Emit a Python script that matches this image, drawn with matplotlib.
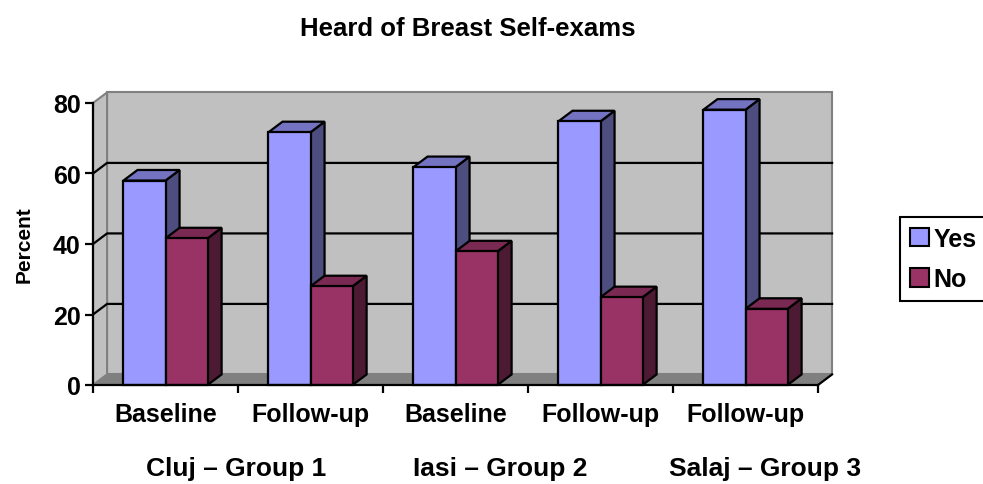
import numpy as np
import matplotlib.pyplot as plt
from matplotlib.patches import Polygon, Rectangle, Patch

plt.rcParams['font.family'] = ['Liberation Sans', 'DejaVu Sans']
plt.rcParams['font.weight'] = 'bold'

# ============================
# Data
# ============================
title = 'Heard of Breast Self-exams'
categories = ['Baseline', 'Follow-up', 'Baseline', 'Follow-up', 'Follow-up']
groups = ['Cluj – Group 1', 'Iasi – Group 2', 'Salaj – Group 3']
series_names = ['Yes', 'No']
yes = [58.0, 71.7, 61.8, 74.8, 78.1]
no = [41.6, 28.0, 37.9, 24.9, 21.6]
yticks = [0, 20, 40, 60, 80]

# ============================
# Style (3D look, Excel-like)
# ============================
front = {'Yes': '#9999FF', 'No': '#993366'}
top = {'Yes': '#7373C2', 'No': '#7A2952'}
side = {'Yes': '#4D4D80', 'No': '#4D1A33'}
wall_c = '#C0C0C0'
floor_c = '#808080'
DX = 0.097      # depth offset, in category units
DY = 3.0        # depth offset, in value units
bw = 0.29       # width of one bar
ymax = 80

W, H = 983, 485
fig = plt.figure(figsize=(W / 100, H / 100), dpi=100)
# front plane of the chart, in pixels: x 93..818, y 104..386
ax = fig.add_axes([93 / W, 1 - 386 / H, 725 / W, 282 / H])
n = len(categories)
ax.set_xlim(0, n)
ax.set_ylim(0, ymax)
ax.patch.set_visible(False)

# walls and floor
ax.add_patch(Rectangle((DX, DY), n, ymax, fc=wall_c, ec=floor_c, lw=1.5,
                       clip_on=False, zorder=0))
ax.add_patch(Polygon([(0, 0), (DX, DY), (DX, ymax + DY), (0, ymax)],
                     closed=True, fc=wall_c, ec=floor_c, lw=1.5,
                     clip_on=False, zorder=0))
ax.add_patch(Polygon([(0, 0), (n, 0), (n + DX, DY), (DX, DY)], closed=True,
                     fc=floor_c, ec=floor_c, lw=1, clip_on=False, zorder=0.5))

# gridlines on the back wall
for g in yticks[1:-1]:
    ax.plot([0, DX, n + DX], [g, g + DY, g + DY], color='black', lw=1.6,
            clip_on=False, zorder=1)


def bar3d(x0, v, name, z):
    pts_front = [(x0, 0), (x0 + bw, 0), (x0 + bw, v), (x0, v)]
    pts_top = [(x0, v), (x0 + bw, v), (x0 + bw + DX, v + DY), (x0 + DX, v + DY)]
    pts_side = [(x0 + bw, 0), (x0 + bw + DX, DY), (x0 + bw + DX, v + DY), (x0 + bw, v)]
    for pts, col in [(pts_side, side[name]), (pts_top, top[name]), (pts_front, front[name])]:
        ax.add_patch(Polygon(pts, closed=True, fc=col, ec='black', lw=1.6,
                             clip_on=False, zorder=z))


z = 2
for i in range(n):
    c = i + 0.5
    bar3d(c - bw, yes[i], 'Yes', z)
    bar3d(c, no[i], 'No', z + 1)
    z += 2

# axes lines
for s in ['top', 'right']:
    ax.spines[s].set_visible(False)
for s in ['left', 'bottom']:
    ax.spines[s].set_color('black')
    ax.spines[s].set_linewidth(1.6)
    ax.spines[s].set_zorder(50)
ax.plot([n, n + DX], [0, DY], color='black', lw=1.6, clip_on=False, zorder=50)

ax.set_yticks(yticks)
ax.set_yticklabels([str(t) for t in yticks], fontsize=18, fontweight='bold')
ax.tick_params(axis='y', length=6, width=1.6, pad=3)
ax.set_xticks(np.arange(n + 1))
ax.set_xticklabels([])
ax.tick_params(axis='x', which='major', length=6, width=1.6)
ax.set_xticks(np.arange(n) + 0.5, minor=True)
ax.set_xticklabels(categories, minor=True, fontsize=18, fontweight='bold')
ax.tick_params(axis='x', which='minor', length=0, pad=12)

ax.set_ylabel('Percent', fontsize=15, fontweight='bold', labelpad=14)

fig.text(468 / W, 1 - 29 / H, title, ha='center', va='center',
         fontsize=18.5, fontweight='bold')

# group labels under the categories
group_x = [236, 500, 765]
for gx, gname in zip(group_x, groups):
    fig.text(gx / W, 1 - 469 / H, gname, ha='center', va='center',
             fontsize=19, fontweight='bold')

handles = [Patch(fc=front[s], ec='black', lw=1.5) for s in series_names]
leg = fig.legend(handles, series_names, loc='upper left',
                 bbox_to_anchor=(900 / W, 1 - 218 / H), frameon=True,
                 fancybox=False, framealpha=1, edgecolor='black',
                 handlelength=0.75, handleheight=0.75, handletextpad=0.2,
                 borderpad=0.4, labelspacing=0.65, borderaxespad=0,
                 prop={'size': 18, 'weight': 'bold'})
leg.get_frame().set_linewidth(1.5)

fig.savefig('out.png', dpi=100)
